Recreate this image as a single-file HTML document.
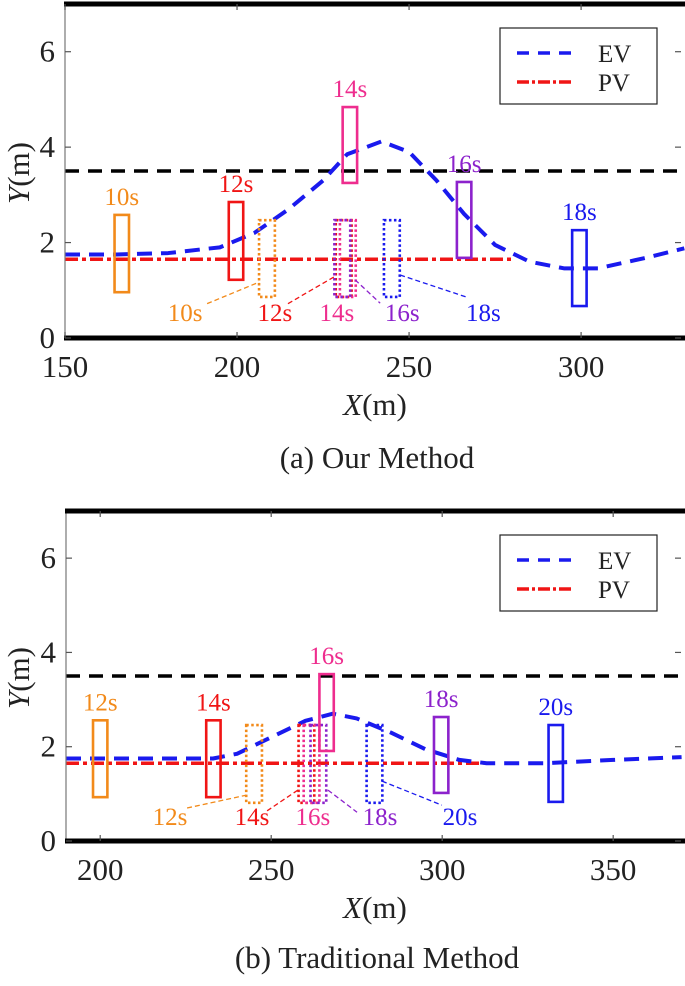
<!DOCTYPE html>
<html><head><meta charset="utf-8">
<style>
html,body{margin:0;padding:0;background:#fff;}
svg, svg text{font-family:"Liberation Serif","DejaVu Serif","Times New Roman",serif;}
</style></head>
<body>
<svg id="fig" width="685" height="981" viewBox="0 0 685 981" xmlns="http://www.w3.org/2000/svg" font-family="Liberation Serif, DejaVu Serif, serif"></svg>
<script>
// ---------- Chart (a) data ----------
const aEvX=[150,165,180,195,205,215,225,232,242,250,258,266,275,285,295,305,320,330];
const aEvY=[1.75,1.75,1.78,1.9,2.2,2.7,3.3,3.85,4.12,3.9,3.3,2.6,1.95,1.6,1.46,1.46,1.7,1.88];
const aPvX=[150,280];
const aPvY=[1.65,1.65];
const aSolidT=["10s","12s","14s","16s","18s"];
const aSolidX=[166.5,199.7,232.8,266,299.5];
const aSolidLo=[0.96,1.22,3.25,1.68,0.67];
const aSolidHi=[2.58,2.85,4.84,3.27,2.26];
const aDotX=[208.7,231,232.2,230.6,245];
const aDotC=["orange","red","pink","purple","blue"];
const aDotLo=[0.86,0.86,0.86,0.86,0.86];
const aDotHi=[2.47,2.47,2.47,2.47,2.47];
const aDotLabX=[184.9,211,229,248,271.6];
const aLeadX1=[191.3,214.8,null,234.3,247.4];
const aLeadY1=[0.72,0.72,null,1.22,1.32];
const aLeadX2=[206.4,228.2,null,241.6,266.6];
const aLeadY2=[1.17,1.28,null,0.73,0.86];
const aXTicks=[150,200,250,300];
// ---------- Chart (b) data ----------
const bEvX=[190,233,240,250,260,268,275,285,295,305,313,330,350,370];
const bEvY=[1.75,1.75,1.85,2.2,2.55,2.7,2.6,2.3,1.95,1.72,1.65,1.65,1.72,1.78];
const bPvX=[190,312];
const bPvY=[1.65,1.65];
const bSolidT=["12s","14s","16s","18s","20s"];
const bSolidX=[200,233.1,266.2,299.7,333.2];
const bSolidLo=[0.93,0.93,1.91,1.02,0.83];
const bSolidHi=[2.56,2.56,3.54,2.63,2.46];
const bDotX=[245,260.3,261.8,263.8,280.2];
const bDotC=["orange","red","pink","purple","blue"];
const bDotLo=[0.81,0.81,0.81,0.81,0.81];
const bDotHi=[2.46,2.46,2.46,2.46,2.46];
const bDotLabX=[220.4,244.4,262.2,281.8,305.2];
const bLeadX1=[225.4,248.8,null,266.6,282.4];
const bLeadY1=[0.70,0.64,null,1.08,1.27];
const bLeadX2=[242.6,257.8,null,275.1,299.9];
const bLeadY2=[0.97,1.08,null,0.61,0.76];
const bXTicks=[200,250,300,350];
const yTicks=[0,2,4,6];
const limitY=3.5;

const COL={orange:"#f28a1a",red:"#f01515",pink:"#ee2d8e",purple:"#8c22cc",blue:"#1a1aee"};
const solidColsA=["orange","red","pink","purple","blue"];
const FF='Liberation Serif, DejaVu Serif, serif';
const NS="http://www.w3.org/2000/svg";
const svg=document.getElementById('fig');
function mk(tag,attrs,parent){const e=document.createElementNS(NS,tag);for(const k in attrs)e.setAttribute(k,attrs[k]);if(tag==='text')e.setAttribute('font-family',FF);(parent||svg).appendChild(e);return e;}

function draw(c){
  const g=mk('g',{});
  
  
  const sx=x=>c.left+(x-c.xmin)*(c.right-c.left)/(c.xmax-c.xmin);
  const sy=y=>c.bottom-(y-0)*(c.bottom-c.top)/7;
  const cp=mk('clipPath',{id:c.name+'-clip'},g);
  mk('rect',{x:c.left,y:c.top,width:c.right-c.left,height:c.bottom-c.top},cp);
  const pg=mk('g',{'clip-path':'url(#'+c.name+'-clip)'},g);
  const lim=mk('line',{x1:c.left,x2:c.right,y1:sy(limitY),y2:sy(limitY),stroke:'#000','stroke-width':3.5,'stroke-dasharray':'14 9'},pg);
  
  
  const pv=mk('polyline',{points:c.pvX.map((x,i)=>sx(x)+','+sy(c.pvY[i])).join(' '),fill:'none',stroke:COL.red,'stroke-width':3.5,'stroke-dasharray':'13 4 4 4'},pg);
  
  
  const ev=mk('polyline',{points:c.evX.map((x,i)=>sx(x)+','+sy(c.evY[i])).join(' '),fill:'none',stroke:COL.blue,'stroke-width':4,'stroke-dasharray':'15 9','stroke-linejoin':'round'},pg);
  
  
  c.dotX.forEach((x,i)=>{
    const r=mk('rect',{x:sx(x-2.3),y:sy(c.dotHi[i]),width:sx(x+2.3)-sx(x-2.3),height:sy(c.dotLo[i])-sy(c.dotHi[i]),fill:'none',stroke:COL[c.dotC[i]],'stroke-width':2.6,'stroke-dasharray':'2.5 2.5'},pg);
    
    
  });
  c.solidX.forEach((x,i)=>{
    const col=COL[solidColsA[i]];
    const r=mk('rect',{x:sx(x-2.1),y:sy(c.solidHi[i]),width:sx(x+2.1)-sx(x-2.1),height:sy(c.solidLo[i])-sy(c.solidHi[i]),fill:'none',stroke:col,'stroke-width':2.6},pg);
    
    
    const t=mk('text',{x:sx(x),y:sy(c.solidHi[i])-10,'text-anchor':'middle','font-size':25,fill:col},g);
    t.textContent=c.solidT[i];
    
    
  });
  c.dotLabX.forEach((x,i)=>{
    const col=COL[c.dotC[i]];
    if(c.lx1[i]!==null){
      const l=mk('line',{x1:sx(c.lx1[i]),y1:sy(c.ly1[i]),x2:sx(c.lx2[i]),y2:sy(c.ly2[i]),stroke:col,'stroke-width':1.3,'stroke-dasharray':'5 3'},g);
      
      
    }
    const t=mk('text',{x:sx(x),y:c.labBase,'text-anchor':'middle','font-size':25,fill:col},g);
    t.textContent=c.solidT[i];
    
    
  });
  mk('line',{x1:c.left,x2:c.left,y1:c.top,y2:c.bottom,stroke:'#777','stroke-width':1.2},g);
  const tb=mk('line',{x1:c.left-1,x2:685,y1:c.top,y2:c.top,stroke:'#000','stroke-width':5},g);
  
  const bb=mk('line',{x1:c.left-1,x2:685,y1:c.bottom,y2:c.bottom,stroke:'#000','stroke-width':5},g);
  
  c.xTicks.forEach(v=>{
    mk('line',{x1:sx(v),x2:sx(v),y1:c.bottom,y2:c.bottom-6,stroke:'#555','stroke-width':1.2},g);
    mk('line',{x1:sx(v),x2:sx(v),y1:c.top,y2:c.top+6,stroke:'#555','stroke-width':1.2},g);
    const t=mk('text',{x:sx(v),y:c.bottom+39,'text-anchor':'middle','font-size':31,fill:'#222'},g);
    t.textContent=v;
    
    
  });
  yTicks.forEach(v=>{
    mk('line',{x1:c.left,x2:c.left+6,y1:sy(v),y2:sy(v),stroke:'#555','stroke-width':1.2},g);
    mk('line',{x1:681,x2:675,y1:sy(v),y2:sy(v),stroke:'#555','stroke-width':1.2},g);
    const t=mk('text',{x:c.left-10,y:sy(v)+10,'text-anchor':'end','font-size':31,fill:'#222'},g);
    t.textContent=v;
    
    
  });
  const xt=mk('text',{x:375,y:c.bottom+77,'text-anchor':'middle','font-size':31,fill:'#222'},g);
  xt.innerHTML='<tspan font-style="italic">X</tspan>(m)';
  
  const yc=(c.top+c.bottom)/2;
  const yt=mk('text',{x:0,y:0,'text-anchor':'middle','font-size':31,fill:'#222',transform:'translate(29,'+(yc+2)+') rotate(-90)'},g);
  yt.innerHTML='<tspan font-style="italic">Y</tspan>(m)';
  
  const lg=mk('g',{},g);
  
  const ly=c.top+24;
  mk('rect',{x:500,y:ly,width:157,height:76,fill:'#fff',stroke:'#222','stroke-width':1.2},lg);
  const e1=mk('line',{x1:517,x2:573,y1:ly+25,y2:ly+25,stroke:COL.blue,'stroke-width':3.5,'stroke-dasharray':'12 9'},lg);
  
  const t1=mk('text',{x:598,y:ly+34,'font-size':25,fill:'#222'},lg);t1.textContent='EV';
  
  const e2=mk('line',{x1:517,x2:573,y1:ly+54,y2:ly+54,stroke:COL.red,'stroke-width':3.5,'stroke-dasharray':'12 3 3 3'},lg);
  
  const t2=mk('text',{x:598,y:ly+63,'font-size':25,fill:'#222'},lg);t2.textContent='PV';
  
  const cap=mk('text',{x:377,y:c.capY,'text-anchor':'middle','font-size':31,fill:'#222'},g);
  cap.textContent=c.caption;
  
}

draw({name:'chart-our-method',left:65,right:685,top:4,bottom:338,xmin:150,xmax:330.2,
  evX:aEvX,evY:aEvY,pvX:aPvX,pvY:aPvY,solidT:aSolidT,solidX:aSolidX,solidLo:aSolidLo,solidHi:aSolidHi,
  dotX:aDotX,dotC:aDotC,dotLo:aDotLo,dotHi:aDotHi,dotLabX:aDotLabX,lx1:aLeadX1,ly1:aLeadY1,lx2:aLeadX2,ly2:aLeadY2,
  xTicks:aXTicks,labBase:321,capY:468,caption:'(a) Our Method'});
draw({name:'chart-traditional-method',left:66,right:685,top:511,bottom:841,xmin:190,xmax:371,
  evX:bEvX,evY:bEvY,pvX:bPvX,pvY:bPvY,solidT:bSolidT,solidX:bSolidX,solidLo:bSolidLo,solidHi:bSolidHi,
  dotX:bDotX,dotC:bDotC,dotLo:bDotLo,dotHi:bDotHi,dotLabX:bDotLabX,lx1:bLeadX1,ly1:bLeadY1,lx2:bLeadX2,ly2:bLeadY2,
  xTicks:bXTicks,labBase:825,capY:968,caption:'(b) Traditional Method'});
</script>
</body></html>
